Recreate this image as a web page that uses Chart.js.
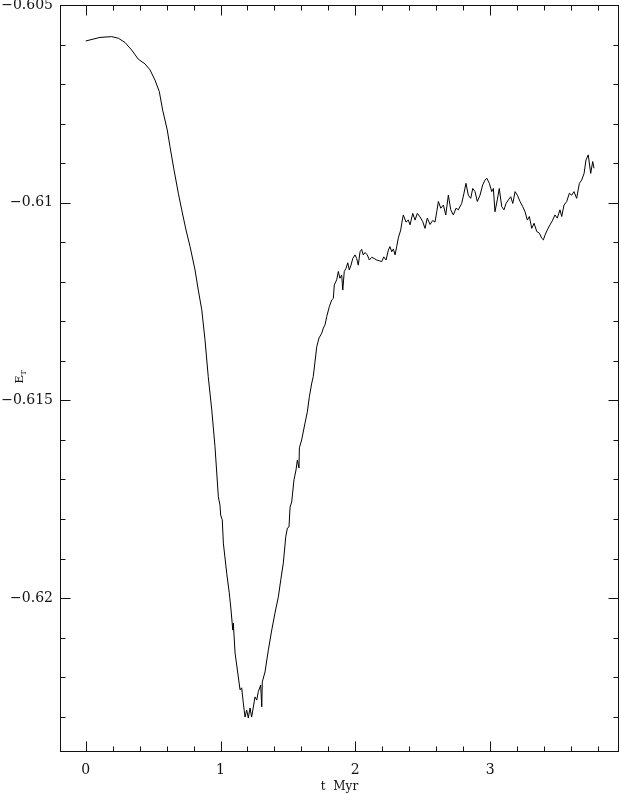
<!DOCTYPE html>
<html><head><meta charset="utf-8">
<script src="https://cdn.jsdelivr.net/npm/chart.js@4/dist/chart.umd.min.js"></script>
<style>html,body{margin:0;padding:0;background:#fff;} canvas{display:block;}</style>
</head><body>
<canvas id="c" width="621" height="794"></canvas>
<script>
const tMyr = [0, 0.106, 0.193, 0.242, 0.292, 0.341, 0.390, 0.440, 0.477, 0.514, 0.546, 0.571, 0.605, 0.625, 0.655, 0.687, 0.712, 0.744, 0.774, 0.811, 0.835, 0.861, 0.885, 0.909, 0.935, 0.959, 0.984, 0.996, 1.001, 1.013, 1.021, 1.046, 1.065, 1.078, 1.091, 1.095, 1.108, 1.125, 1.145, 1.157, 1.169, 1.182, 1.194, 1.206, 1.219, 1.231, 1.256, 1.269, 1.280, 1.298, 1.306, 1.310, 1.330, 1.355, 1.380, 1.404, 1.429, 1.447, 1.466, 1.484, 1.496, 1.508, 1.516, 1.528, 1.545, 1.560, 1.570, 1.582, 1.585, 1.602, 1.627, 1.644, 1.659, 1.677, 1.688, 1.714, 1.731, 1.751, 1.763, 1.775, 1.788, 1.807, 1.825, 1.837, 1.844, 1.862, 1.874, 1.886, 1.899, 1.907, 1.918, 1.931, 1.944, 1.955, 1.968, 1.981, 1.998, 2.010, 2.022, 2.035, 2.047, 2.059, 2.072, 2.089, 2.104, 2.122, 2.139, 2.159, 2.178, 2.196, 2.211, 2.228, 2.245, 2.257, 2.270, 2.282, 2.295, 2.307, 2.319, 2.337, 2.346, 2.356, 2.376, 2.393, 2.406, 2.426, 2.443, 2.460, 2.480, 2.500, 2.517, 2.534, 2.554, 2.574, 2.591, 2.604, 2.616, 2.634, 2.653, 2.671, 2.690, 2.708, 2.727, 2.747, 2.764, 2.789, 2.806, 2.821, 2.838, 2.856, 2.871, 2.888, 2.905, 2.925, 2.945, 2.962, 2.975, 2.994, 3.012, 3.024, 3.036, 3.053, 3.068, 3.086, 3.103, 3.118, 3.135, 3.153, 3.168, 3.185, 3.202, 3.222, 3.242, 3.259, 3.276, 3.291, 3.309, 3.326, 3.346, 3.365, 3.383, 3.395, 3.407, 3.424, 3.444, 3.464, 3.481, 3.498, 3.518, 3.531, 3.548, 3.568, 3.588, 3.605, 3.622, 3.642, 3.662, 3.679, 3.697, 3.711, 3.728, 3.746, 3.761, 3.771];
const energyT = [-0.60591, -0.60582, -0.60580, -0.60584, -0.60595, -0.60614, -0.60637, -0.60649, -0.60664, -0.60690, -0.60719, -0.60766, -0.60816, -0.60858, -0.60917, -0.60976, -0.61018, -0.61069, -0.61111, -0.61170, -0.61221, -0.61271, -0.61347, -0.61440, -0.61524, -0.61617, -0.61744, -0.61765, -0.61790, -0.61802, -0.61861, -0.61937, -0.61987, -0.62030, -0.62081, -0.62063, -0.62139, -0.62182, -0.62232, -0.62227, -0.62265, -0.62301, -0.62283, -0.62303, -0.62278, -0.62301, -0.62250, -0.62258, -0.62237, -0.62220, -0.62275, -0.62212, -0.62187, -0.62131, -0.62081, -0.62038, -0.61997, -0.61954, -0.61911, -0.61845, -0.61823, -0.61820, -0.61770, -0.61757, -0.61701, -0.61676, -0.61651, -0.61671, -0.61620, -0.61600, -0.61557, -0.61529, -0.61491, -0.61456, -0.61440, -0.61364, -0.61342, -0.61330, -0.61317, -0.61309, -0.61288, -0.61263, -0.61246, -0.61242, -0.61208, -0.61195, -0.61174, -0.61191, -0.61183, -0.61221, -0.61174, -0.61166, -0.61152, -0.61170, -0.61158, -0.61141, -0.61132, -0.61141, -0.61158, -0.61124, -0.61118, -0.61132, -0.61126, -0.61132, -0.61145, -0.61138, -0.61141, -0.61145, -0.61147, -0.61149, -0.61137, -0.61145, -0.61120, -0.61111, -0.61124, -0.61117, -0.61132, -0.61111, -0.61089, -0.61069, -0.61049, -0.61031, -0.61049, -0.61044, -0.61056, -0.61027, -0.61044, -0.61027, -0.61036, -0.61048, -0.61065, -0.61039, -0.61055, -0.61045, -0.61049, -0.61023, -0.60997, -0.61014, -0.61006, -0.61031, -0.60981, -0.61018, -0.61031, -0.61014, -0.61018, -0.61002, -0.60976, -0.60951, -0.60981, -0.60989, -0.60964, -0.60972, -0.60997, -0.60981, -0.60955, -0.60943, -0.60938, -0.60951, -0.60972, -0.60964, -0.61023, -0.60993, -0.60964, -0.61010, -0.61018, -0.61002, -0.60993, -0.60985, -0.61002, -0.60972, -0.60981, -0.60997, -0.61010, -0.61023, -0.61044, -0.61035, -0.61065, -0.61052, -0.61073, -0.61077, -0.61090, -0.61094, -0.61082, -0.61069, -0.61056, -0.61044, -0.61031, -0.61039, -0.61018, -0.61035, -0.61006, -0.60997, -0.60976, -0.60981, -0.60972, -0.60989, -0.60951, -0.60943, -0.60926, -0.60892, -0.60879, -0.60926, -0.60896, -0.60913];

const xTickValues = [0, 1, 2, 3];
const xTickLabels = ['0', '1', '2', '3'];
const xMinorValues = [0.2, 0.4, 0.6, 0.8, 1.2, 1.4, 1.6, 1.8, 2.2, 2.4, 2.6, 2.8, 3.2, 3.4, 3.6, 3.8];
const yTickValues = [-0.605, -0.61, -0.615, -0.62];
const yTickLabels = ['\u22120.605', '\u22120.61', '\u22120.615', '\u22120.62'];
const yMinorValues = [-0.606, -0.607, -0.608, -0.609, -0.611, -0.612, -0.613, -0.614, -0.616, -0.617, -0.618, -0.619, -0.621, -0.622, -0.623];
const xRange = [-0.1907, 3.956];
const yRange = [-0.623893, -0.605];
const xTitle = 't  Myr';
const yTitleMain = 'E';
const yTitleSub = 'T';

const FONT = "'DejaVu Serif', 'Liberation Serif', serif";

const n = Math.min(tMyr.length, energyT.length);
const points = [];
for (let i = 0; i < n; i++) points.push({x: tMyr[i], y: energyT[i]});

function labelFor(vals, labels) {
  return function (value) {
    for (let i = 0; i < vals.length; i++) {
      if (Math.abs(vals[i] - value) < 1e-9) return labels[i];
    }
    return '';
  };
}

const framePlugin = {
  id: 'frame',
  afterDraw(chart) {
    const {ctx, chartArea: a, scales: {x, y}} = chart;
    ctx.save();
    ctx.strokeStyle = '#111';
    ctx.lineWidth = 1;
    const L = Math.round(a.left) + 0.5, R = Math.round(a.right) - 0.5;
    const T = Math.round(a.top) + 0.5, B = Math.round(a.bottom) - 0.5;
    ctx.strokeRect(L, T, R - L, B - T);
    ctx.beginPath();
    const xt = (v, len) => {
      const p = Math.round(x.getPixelForValue(v)) + 0.5;
      ctx.moveTo(p, B); ctx.lineTo(p, B - len);
      ctx.moveTo(p, T); ctx.lineTo(p, T + len);
    };
    const yt = (v, len) => {
      const p = Math.round(y.getPixelForValue(v)) + 0.5;
      ctx.moveTo(L, p); ctx.lineTo(L + len, p);
      ctx.moveTo(R, p); ctx.lineTo(R - len, p);
    };
    xTickValues.forEach(v => xt(v, 10));
    xMinorValues.forEach(v => xt(v, 5));
    yTickValues.forEach(v => yt(v, 10));
    yMinorValues.forEach(v => yt(v, 5));
    ctx.stroke();

    // y-axis title with subscript, rotated
    const cy = (a.top + a.bottom) / 2;
    ctx.translate(23, cy + 5);
    ctx.rotate(-Math.PI / 2);
    ctx.fillStyle = '#111';
    ctx.textBaseline = 'alphabetic';
    ctx.textAlign = 'left';
    ctx.font = '11px ' + FONT;
    ctx.fillText(yTitleMain, 0, 0);
    const w = ctx.measureText(yTitleMain).width;
    ctx.font = '8px ' + FONT;
    ctx.fillText(yTitleSub, w, 3);
    ctx.restore();
  }
};

new Chart(document.getElementById('c'), {
  type: 'line',
  data: {
    datasets: [{
      data: points,
      borderColor: '#000',
      borderWidth: 1,
      pointRadius: 0,
      tension: 0,
      fill: false
    }]
  },
  options: {
    responsive: false,
    animation: false,
    events: [],
    layout: {autoPadding: false, padding: {top: 5, right: 2, bottom: 0, left: 0}},
    plugins: {legend: {display: false}, tooltip: {enabled: false}, title: {display: false}},
    scales: {
      x: {
        type: 'linear',
        min: xRange[0], max: xRange[1],
        afterBuildTicks: s => { s.ticks = xTickValues.map(v => ({value: v})); },
        afterFit: s => { s.height = 42; s.paddingLeft = 0; s.paddingRight = 0; s.paddingTop = 0; s.paddingBottom = 0; },
        grid: {display: false, drawTicks: false},
        border: {display: false},
        ticks: {
          autoSkip: false, maxRotation: 0, padding: 10,
          color: '#111',
          font: {family: FONT, size: 14},
          callback: labelFor(xTickValues, xTickLabels)
        },
        title: {display: true, text: xTitle, color: '#111', font: {family: FONT, size: 12}, padding: {top: 0, bottom: 0}}
      },
      y: {
        type: 'linear',
        min: yRange[0], max: yRange[1],
        afterBuildTicks: s => { s.ticks = yTickValues.map(v => ({value: v})); },
        afterFit: s => { s.width = 60; s.paddingLeft = 0; s.paddingRight = 0; s.paddingTop = 0; s.paddingBottom = 0; },
        grid: {display: false, drawTicks: false},
        border: {display: false},
        ticks: {
          autoSkip: false, padding: 7,
          color: '#111',
          font: {family: FONT, size: 14},
          callback: labelFor(yTickValues, yTickLabels)
        }
      }
    }
  },
  plugins: [framePlugin]
});
</script>
</body></html>
